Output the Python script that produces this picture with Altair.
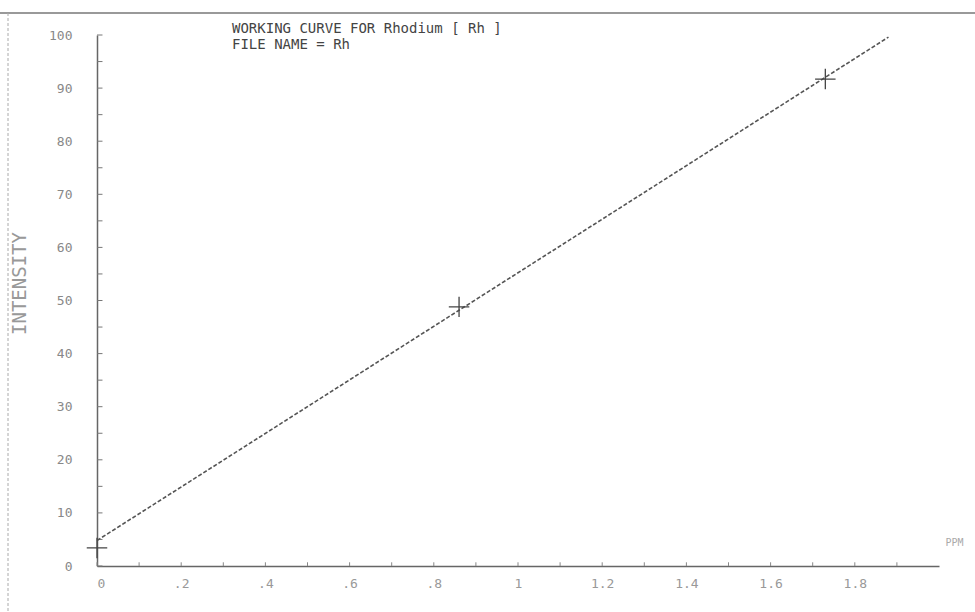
import json
import altair as alt
import pandas as pd

# ---------------- data ----------------
fit_ppm = [0.0, 1.88]
fit_intensity = [4.8, 99.6]

std_ppm = [0.0, 0.86, 1.73]
std_intensity = [3.4, 48.8, 91.7]

x_tick_values = [0.0, 0.2, 0.4, 0.6, 0.8, 1.0, 1.2, 1.4, 1.6, 1.8]
x_tick_labels = ["0", ".2", ".4", ".6", ".8", "1", "1.2", "1.4", "1.6", "1.8"]
x_minor_ticks = [0.0, 0.1, 0.2, 0.3, 0.4, 0.5, 0.6, 0.7, 0.8, 0.9,
                 1.0, 1.1, 1.2, 1.3, 1.4, 1.5, 1.6, 1.7, 1.8, 1.9]
y_tick_values = [0, 10, 20, 30, 40, 50, 60, 70, 80, 90, 100]
y_minor_ticks = [0, 5, 10, 15, 20, 25, 30, 35, 40, 45, 50,
                 55, 60, 65, 70, 75, 80, 85, 90, 95, 100]

title_lines = ["WORKING CURVE FOR Rhodium [ Rh ]", "FILE NAME = Rh"]
x_title = "PPM"
y_title = "INTENSITY"

# ---------------- layout ----------------
W, H = 842, 531
PAD_L, PAD_T = 97, 35
MONO = "DejaVu Sans Mono"

x_scale = alt.Scale(domain=[0, 2.0], nice=False, zero=False)
y_scale = alt.Scale(domain=[0, 100], nice=False)

label_expr = json.dumps(x_tick_labels) + "[round(datum.value * 5)]"

x_axis = alt.Axis(
    values=x_tick_values, labelExpr=label_expr, ticks=False, grid=False,
    domainColor="#666", domainWidth=1.5, labelColor="#999", labelFont=MONO,
    labelFontSize=13, labelPadding=11,
    title=x_title, titleFont=MONO, titleFontSize=10, titleFontWeight="normal",
    titleColor="#aaa", titleX=W + 6, titleY=-24, titleAlign="left",
    titleBaseline="middle",
)
y_axis = alt.Axis(
    values=y_tick_values, format="d", ticks=False, grid=False,
    domainColor="#666", domainWidth=1.5, labelColor="#888", labelFont=MONO,
    labelFontSize=13, labelPadding=25,
    title=y_title, titleFont=MONO, titleFontSize=19, titleFontWeight="normal",
    titleColor="#999", titleX=-78, titleY=248, titleAngle=-90,
    titleAlign="center", titleBaseline="middle",
)

fit_df = pd.DataFrame({"ppm": fit_ppm, "intensity": fit_intensity})
std_df = pd.DataFrame({"ppm": std_ppm, "intensity": std_intensity})
xt_df = pd.DataFrame({"ppm": x_minor_ticks})
yt_df = pd.DataFrame({"intensity": y_minor_ticks})
one = pd.DataFrame({"k": [0]})

fit = alt.Chart(fit_df).mark_line(
    color="#555", strokeWidth=1.6, strokeDash=[4, 2]
).encode(
    x=alt.X("ppm:Q", scale=x_scale, axis=x_axis),
    y=alt.Y("intensity:Q", scale=y_scale, axis=y_axis),
)

pts = alt.Chart(std_df).mark_point(
    shape="M-1,0L1,0M0,-1L0,1", size=420, filled=False,
    stroke="#444", strokeWidth=1.3, opacity=1,
).encode(x="ppm:Q", y="intensity:Q")

xticks = alt.Chart(xt_df).mark_rule(color="#888", strokeWidth=1).encode(
    x="ppm:Q", y=alt.Y("y0:Q"), y2=alt.Y2("y1:Q")
).transform_calculate(y0="0", y1="0.7")

yticks = alt.Chart(yt_df).mark_rule(color="#777", strokeWidth=1).encode(
    y="intensity:Q", x=alt.X("x0:Q"), x2=alt.X2("x1:Q")
).transform_calculate(x0="0", x1="0.013")

top_border = alt.Chart(one).mark_rule(color="#777", strokeWidth=1.5).encode(
    x=alt.value(-PAD_L), x2=alt.value(975 - PAD_L), y=alt.value(13 - PAD_T)
)
left_border = alt.Chart(one).mark_rule(
    color="#aaa", strokeWidth=1, strokeDash=[3, 2]
).encode(
    x=alt.value(8 - PAD_L), y=alt.value(13 - PAD_T), y2=alt.value(612 - PAD_T)
)

title_text = alt.Chart(one).mark_text(
    text=title_lines, align="left", baseline="top", font=MONO, fontSize=14,
    color="#444", lineHeight=16,
).encode(x=alt.value(232 - PAD_L), y=alt.value(22 - PAD_T))

chart = alt.layer(
    top_border, left_border, xticks, yticks, fit, pts, title_text
).properties(
    width=W, height=H,
    background="white",
    autosize=alt.AutoSizeParams(type="none"),
    padding={"left": PAD_L, "top": PAD_T, "right": 975 - PAD_L - W,
             "bottom": 612 - PAD_T - H},
).configure_view(stroke="transparent", strokeWidth=0)

chart.save("out.html", embed_options={"renderer": "svg", "actions": False})
